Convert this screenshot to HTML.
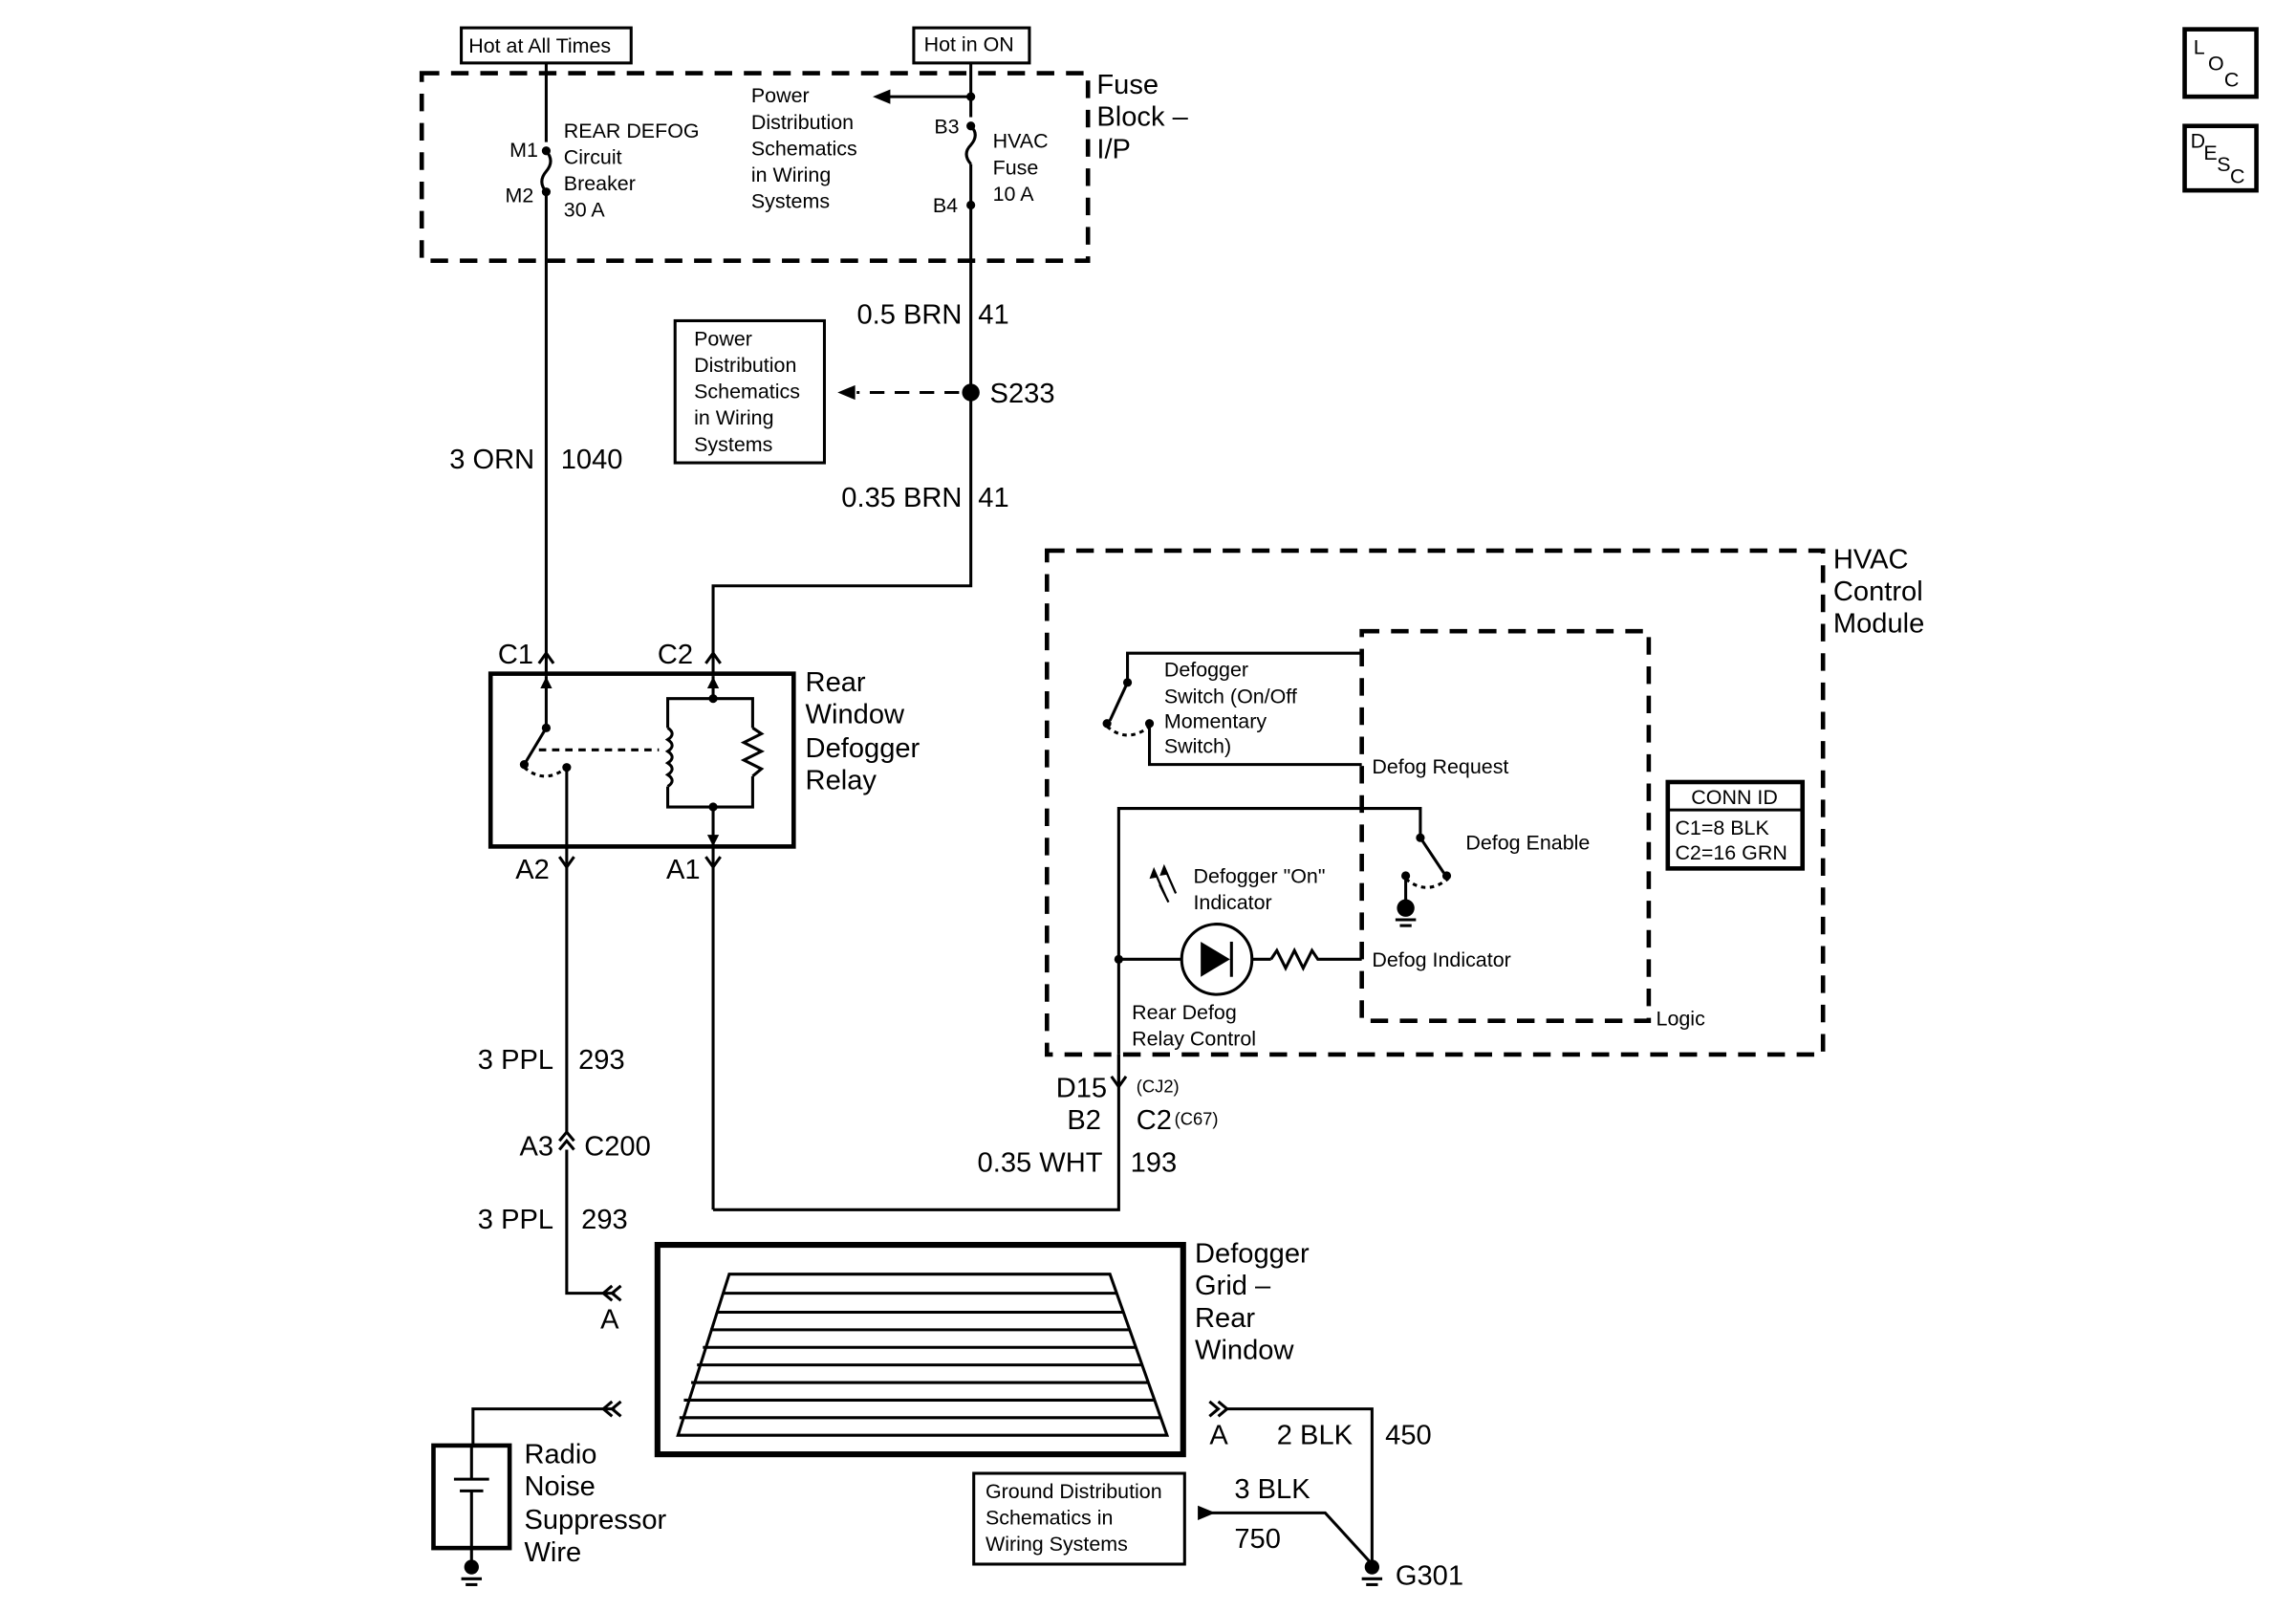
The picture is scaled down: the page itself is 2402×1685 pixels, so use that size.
<!DOCTYPE html>
<html><head><meta charset="utf-8"><style>
html,body{margin:0;padding:0;background:#fff}
svg{display:block}
text{font-family:"Liberation Sans",sans-serif;fill:#000}
.s{font-size:14px}.l{font-size:19px}.t{font-size:12px}
</style></head><body>
<svg width="2402" height="1685" viewBox="0 0 1568 1100" xmlns="http://www.w3.org/2000/svg">
<g fill="none" stroke="#000" stroke-width="2">
<rect x="315" y="19" width="116" height="24"/>
<rect x="624" y="19" width="79" height="24"/>
<rect x="288" y="50" width="455" height="128" stroke-dasharray="12,8" stroke-width="3"/>
<line x1="373" y1="43" x2="373" y2="97"/>
<path d="M373 103 q6 7 0 14 q-6 7 0 14"/>
<line x1="373" y1="131" x2="373" y2="462"/>
<line x1="663" y1="43" x2="663" y2="80"/>
<line x1="663" y1="66" x2="605" y2="66"/>
<path d="M663 86 q6 6 0 13 q-6 6 0 13"/>
<line x1="663" y1="112" x2="663" y2="140"/>
<polyline points="663,140 663,400 487,400 487,462"/>
<line x1="655" y1="268" x2="585" y2="268" stroke-dasharray="10,7"/>
<rect x="461" y="219" width="102" height="97"/>
<rect x="335" y="460" width="207" height="118" stroke-width="3"/>
<line x1="373" y1="462" x2="373" y2="497"/>
<line x1="373" y1="497" x2="358" y2="522"/>
<line x1="387" y1="524" x2="387" y2="590"/>
<path d="M358 524 q14 12 29 0" stroke-dasharray="3,3"/>
<line x1="368" y1="512" x2="450" y2="512" stroke-dasharray="5,4"/>
<line x1="487" y1="462" x2="487" y2="477"/>
<polyline points="456,497 456,477 514,477 514,497"/>
<path d="M456 497 q6 4 0 8 q6 4 0 8 q6 4 0 8 q6 4 0 8 q6 4 0 8"/>
<polyline points="514,497 520,501 508,507 520,513 508,519 520,525 514,530"/>
<polyline points="456,537 456,551 514,551 514,530"/>
<line x1="487" y1="551" x2="487" y2="826"/>
<polyline points="487,826 764,826 764,720"/>
<polyline points="368,453 373,446 378,453"/>
<polyline points="482,453 487,446 492,453"/>
<polyline points="382,585 387,592 392,585"/>
<polyline points="482,585 487,592 492,585"/>
<polyline points="759,735 764,742 769,735"/>
<line x1="764" y1="742" x2="764" y2="720"/>
<polyline points="382,779 387,773 392,779"/><polyline points="382,785 387,779 392,785"/>
<line x1="387" y1="590" x2="387" y2="773"/>
<polyline points="387,785 387,883 420,883"/>
<polyline points="418,878 412,883 418,888"/><polyline points="424,878 418,883 424,888"/>
<rect x="715" y="376" width="530" height="344" stroke-dasharray="12,8" stroke-width="3"/>
<rect x="930" y="431" width="196" height="266" stroke-dasharray="12,8" stroke-width="3"/>
<polyline points="930,446 770,446 770,466"/>
<line x1="770" y1="466" x2="758" y2="492"/>
<polyline points="785,494 785,522 930,522"/>
<path d="M756 496 q14 12 29 0" stroke-dasharray="3,3"/>
<polyline points="764,720 764,552 970,552 970,572"/>
<line x1="970" y1="572" x2="986" y2="596"/>
<path d="M960 600 q14 12 29 0" stroke-dasharray="3,3"/>
<line x1="960" y1="598" x2="960" y2="620"/>
<line x1="953" y1="628" x2="967" y2="628"/><line x1="956" y1="632" x2="964" y2="632"/>
<line x1="764" y1="655" x2="807" y2="655"/>
<circle cx="831" cy="655" r="24"/>
<line x1="855" y1="655" x2="868" y2="655"/>
<polyline points="868,655 872,649 878,661 884,649 890,661 896,649 900,655 930,655"/>
<path d="M796 612 l-8 -18 M803 610 l-8 -18 M798 616 l-6 -12" stroke-width="1.5"/>
<rect x="1139" y="534" width="92" height="59" stroke-width="3"/>
<line x1="1139" y1="553" x2="1231" y2="553"/>
<rect x="1492" y="20" width="49" height="46" stroke-width="3"/>
<rect x="1492" y="86" width="49" height="44" stroke-width="3"/>
<rect x="449" y="850" width="359" height="143" stroke-width="4"/>
<polygon points="498,870 758,870 797,980 463,980"/>
<line x1="494" y1="883" x2="763" y2="883"/>
<line x1="489" y1="896" x2="767" y2="896"/>
<line x1="485" y1="908" x2="772" y2="908"/>
<line x1="480" y1="920" x2="776" y2="920"/>
<line x1="476" y1="932" x2="780" y2="932"/>
<line x1="472" y1="944" x2="784" y2="944"/>
<line x1="467" y1="956" x2="789" y2="956"/>
<line x1="464" y1="968" x2="793" y2="968"/>
<polyline points="420,962 323,962 323,987"/>
<polyline points="418,957 412,962 418,967"/><polyline points="424,957 418,962 424,967"/>
<rect x="296" y="987" width="52" height="70" stroke-width="3"/>
<line x1="322" y1="987" x2="322" y2="1010"/><line x1="310" y1="1010" x2="334" y2="1010"/>
<line x1="314" y1="1018" x2="330" y2="1018"/><line x1="322" y1="1018" x2="322" y2="1057"/>
<line x1="322" y1="1057" x2="322" y2="1070"/>
<line x1="315" y1="1078" x2="329" y2="1078"/><line x1="318" y1="1082" x2="326" y2="1082"/>
<polyline points="826,957 832,962 826,967"/><polyline points="832,957 838,962 832,967"/>
<polyline points="838,962 937,962 937,1070"/>
<line x1="930" y1="1078" x2="944" y2="1078"/><line x1="933" y1="1082" x2="941" y2="1082"/>
<rect x="665" y="1006" width="144" height="62"/>
<polyline points="822,1033 905,1033 937,1068"/>
</g>
<g fill="#000">
<circle cx="373" cy="103" r="3"/><circle cx="373" cy="131" r="3"/>
<circle cx="663" cy="66" r="3"/><circle cx="663" cy="86" r="3"/><circle cx="663" cy="140" r="3"/>
<circle cx="663" cy="268" r="6"/>
<polygon points="596,66 608,61 608,71"/>
<polygon points="572,268 584,263 584,273"/>
<circle cx="373" cy="497" r="3"/><circle cx="358" cy="522" r="3"/><circle cx="387" cy="524" r="3"/>
<circle cx="487" cy="477" r="3"/><circle cx="487" cy="551" r="3"/>
<polygon points="373,462 369,470 377,470"/><polygon points="487,462 483,470 491,470"/>
<polygon points="487,578 483,570 491,570"/>
<circle cx="770" cy="466" r="3"/><circle cx="756" cy="494" r="3"/><circle cx="785" cy="494" r="3"/>
<circle cx="970" cy="572" r="3"/><circle cx="988" cy="598" r="3"/><circle cx="960" cy="598" r="3"/>
<circle cx="960" cy="620" r="6"/><circle cx="764" cy="655" r="3"/>
<polygon points="820,643 820,667 840,655"/><rect x="840" y="643" width="2" height="24"/>
<polygon points="788,592 785,600 791,599"/><polygon points="795,590 792,598 798,597"/>
<circle cx="322" cy="1070" r="5"/><circle cx="937" cy="1070" r="5"/>
<polygon points="830,1033 818,1028 818,1038"/>
</g>
<text class="s" x="320" y="36">Hot at All Times</text>
<text class="s" x="631" y="35">Hot in ON</text>
<text class="l" x="749" y="64">Fuse</text><text class="l" x="749" y="86">Block –</text><text class="l" x="749" y="108">I/P</text>
<text class="s" x="348" y="107">M1</text><text class="s" x="345" y="138">M2</text>
<text class="s" x="385" y="94">REAR DEFOG</text><text class="s" x="385" y="112">Circuit</text><text class="s" x="385" y="130">Breaker</text><text class="s" x="385" y="148">30 A</text>
<text class="s" x="513" y="70">Power</text><text class="s" x="513" y="88">Distribution</text><text class="s" x="513" y="106">Schematics</text><text class="s" x="513" y="124">in Wiring</text><text class="s" x="513" y="142">Systems</text>
<text class="s" x="638" y="91">B3</text><text class="s" x="637" y="145">B4</text>
<text class="s" x="678" y="101">HVAC</text><text class="s" x="678" y="119">Fuse</text><text class="s" x="678" y="137">10 A</text>
<text class="l" x="657" y="221" text-anchor="end">0.5 BRN</text><text class="l" x="668" y="221">41</text>
<text class="l" x="676" y="275">S233</text>
<text class="s" x="474" y="236">Power</text><text class="s" x="474" y="254">Distribution</text><text class="s" x="474" y="272">Schematics</text><text class="s" x="474" y="290">in Wiring</text><text class="s" x="474" y="308">Systems</text>
<text class="l" x="365" y="320" text-anchor="end">3 ORN</text><text class="l" x="383" y="320">1040</text>
<text class="l" x="657" y="346" text-anchor="end">0.35 BRN</text><text class="l" x="668" y="346">41</text>
<text class="l" x="340" y="453">C1</text><text class="l" x="449" y="453">C2</text>
<text class="l" x="550" y="472">Rear</text><text class="l" x="550" y="494">Window</text><text class="l" x="550" y="517">Defogger</text><text class="l" x="550" y="539">Relay</text>
<text class="l" x="352" y="600">A2</text><text class="l" x="455" y="600">A1</text>
<text class="l" x="378" y="730" text-anchor="end">3 PPL</text><text class="l" x="395" y="730">293</text>
<text class="l" x="378" y="789" text-anchor="end">A3</text><text class="l" x="399" y="789">C200</text>
<text class="l" x="378" y="839" text-anchor="end">3 PPL</text><text class="l" x="397" y="839">293</text>
<text class="l" x="1252" y="388">HVAC</text><text class="l" x="1252" y="410">Control</text><text class="l" x="1252" y="432">Module</text>
<text class="s" x="795" y="462">Defogger</text><text class="s" x="795" y="480">Switch (On/Off</text><text class="s" x="795" y="497">Momentary</text><text class="s" x="795" y="514">Switch)</text>
<text class="s" x="937" y="528">Defog Request</text>
<text class="s" x="1001" y="580">Defog Enable</text>
<text class="s" x="815" y="603">Defogger "On"</text><text class="s" x="815" y="621">Indicator</text>
<text class="s" x="937" y="660">Defog Indicator</text>
<text class="s" x="773" y="696">Rear Defog</text><text class="s" x="773" y="714">Relay Control</text>
<text class="s" x="1131" y="700">Logic</text>
<text class="s" x="1155" y="549">CONN ID</text><text class="s" x="1144" y="570">C1=8 BLK</text><text class="s" x="1144" y="587">C2=16 GRN</text>
<text class="l" x="756" y="749" text-anchor="end">D15</text><text class="t" x="776" y="746">(CJ2)</text>
<text class="l" x="752" y="771" text-anchor="end">B2</text><text class="l" x="776" y="771">C2</text><text class="t" x="802" y="768">(C67)</text>
<text class="l" x="753" y="800" text-anchor="end">0.35 WHT</text><text class="l" x="772" y="800">193</text>
<text class="l" x="816" y="862">Defogger</text><text class="l" x="816" y="884">Grid –</text><text class="l" x="816" y="906">Rear</text><text class="l" x="816" y="928">Window</text>
<text class="l" x="410" y="907">A</text>
<text class="l" x="826" y="986">A</text><text class="l" x="872" y="986">2 BLK</text><text class="l" x="946" y="986">450</text>
<text class="l" x="358" y="999">Radio</text><text class="l" x="358" y="1021">Noise</text><text class="l" x="358" y="1044">Suppressor</text><text class="l" x="358" y="1066">Wire</text>
<text class="s" x="673" y="1023">Ground Distribution</text><text class="s" x="673" y="1041">Schematics in</text><text class="s" x="673" y="1059">Wiring Systems</text>
<text class="l" x="843" y="1023">3 BLK</text><text class="l" x="843" y="1057">750</text>
<text class="l" x="953" y="1082">G301</text>
<text class="s" x="1498" y="37">L</text><text class="s" x="1508" y="48">O</text><text class="s" x="1519" y="59">C</text>
<text class="s" x="1496" y="101">D</text><text class="s" x="1505" y="109">E</text><text class="s" x="1514" y="117">S</text><text class="s" x="1523" y="125">C</text>
</svg>
</body></html>
